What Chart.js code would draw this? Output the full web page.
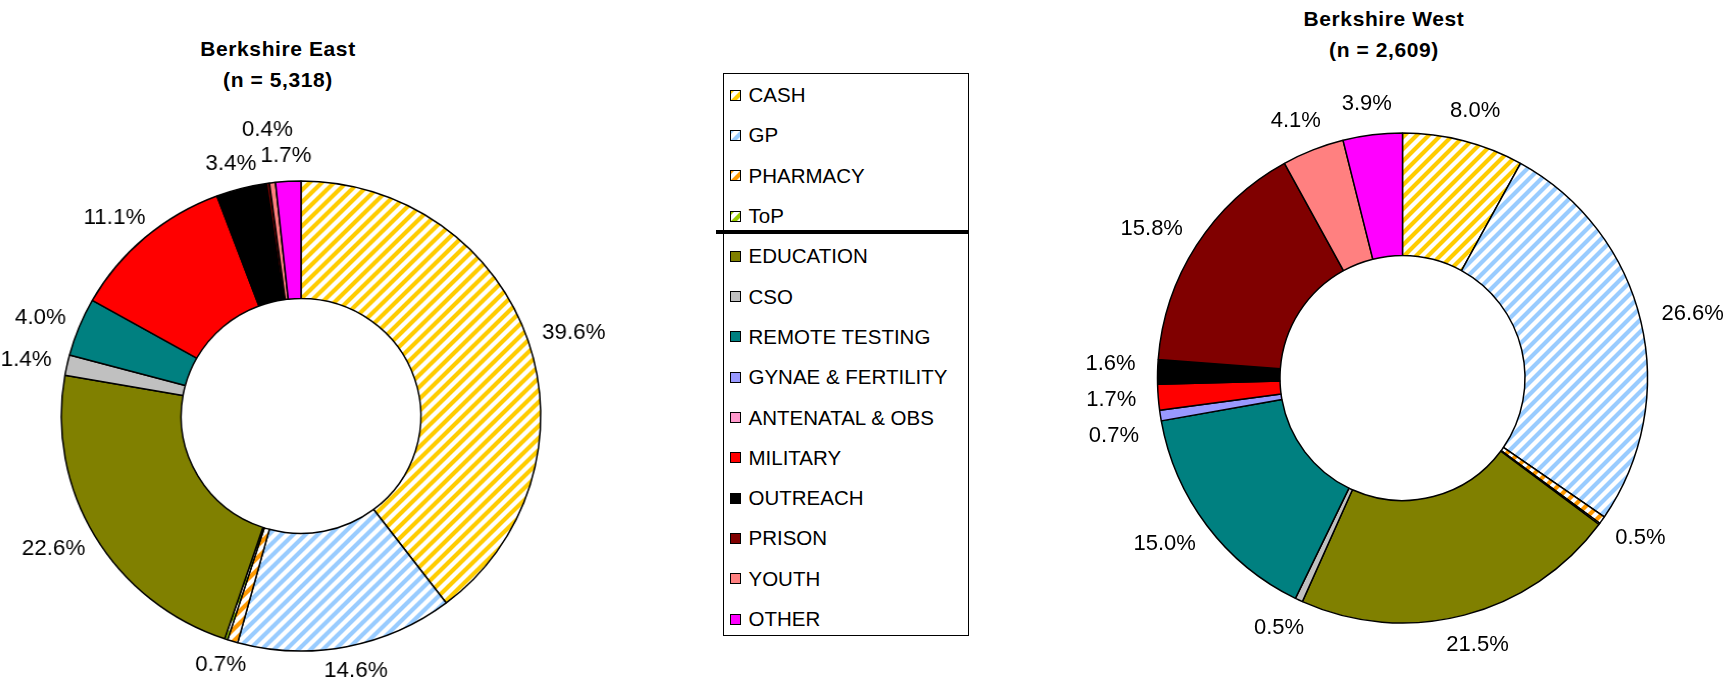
<!DOCTYPE html>
<html>
<head>
<meta charset="utf-8">
<script src="https://cdn.jsdelivr.net/npm/chart.js@4/dist/chart.umd.min.js"></script>
<style>
    body {
        margin: 0;
        width: 1726px;
        height: 685px;
        overflow: hidden;
        position: relative;
        background: #fff;
        font-family: 'Liberation Sans', Arial, sans-serif;
    }
    canvas { position: absolute; }
    .heading {
        position: absolute;
        width: 400px;
        text-align: center;
        font-weight: bold;
        font-size: 21px;
        line-height: 30.5px;
        letter-spacing: 0.6px;
        color: #000;
    }
    #legend {
        position: absolute;
        left: 723px;
        top: 73px;
        width: 246px;
        height: 563px;
        box-sizing: border-box;
        border: 1.5px solid #000;
        padding-top: 1px;
    }
    .lg-row {
        height: 40.3px;
        display: flex;
        align-items: center;
        padding-left: 5.5px;
        font-size: 20.5px;
        color: #000;
        white-space: nowrap;
    }
    .lg-box {
        width: 11px;
        height: 11px;
        box-sizing: border-box;
        border: 1px solid #000;
        margin-right: 8px;
        flex: none;
    }
    #legendRule {
        position: absolute;
        left: 716px;
        top: 230px;
        width: 253px;
        height: 4px;
        background: #000;
    }
</style>
</head>
<body>
<div class="heading" style="left: 78px; top: 34px;">Berkshire East<br>(n = 5,318)</div>
<div class="heading" style="left: 1184px; top: 4px;">Berkshire West<br>(n = 2,609)</div>
<canvas id="eastChart" width="620" height="685" style="left: 0; top: 0; transform: scaleX(1.02); transform-origin: 301px 416px;"></canvas>
<div id="legend"></div>
<div id="legendRule"></div>
<canvas id="westChart" width="666" height="685" style="left: 1060px; top: 0;"></canvas>

<script>
const categories = ['CASH', 'GP', 'PHARMACY', 'ToP', 'EDUCATION', 'CSO', 'REMOTE TESTING',
    'GYNAE & FERTILITY', 'ANTENATAL & OBS', 'MILITARY', 'OUTREACH', 'PRISON', 'YOUTH', 'OTHER'];
const eastValues = [39.6, 14.6, 0.7, 0.2, 22.6, 1.4, 4.0, 0, 0, 11.1, 3.4, 0.2, 0.4, 1.7];
const westValues = [8.0, 26.6, 0.5, 0.1, 21.5, 0.5, 15.0, 0.7, 0, 1.7, 1.6, 15.8, 4.1, 3.9];

// striped categories get a pattern, the rest a flat fill
const stripeColors = { 'CASH': '#ffcc00', 'GP': '#99ccff', 'PHARMACY': '#ff9900', 'ToP': '#99cc00' };
const flatColors = {
    'EDUCATION': '#808000',
    'CSO': '#c0c0c0',
    'REMOTE TESTING': '#008080',
    'GYNAE & FERTILITY': '#9999ff',
    'ANTENATAL & OBS': '#ff99cc',
    'MILITARY': '#ff0000',
    'OUTREACH': '#000000',
    'PRISON': '#800000',
    'YOUTH': '#ff8080',
    'OTHER': '#ff00ff'
};

function stripeTile(color) {
    const s = 12;
    const tile = document.createElement('canvas');
    tile.width = tile.height = s;
    const c = tile.getContext('2d');
    c.fillStyle = '#fff';
    c.fillRect(0, 0, s, s);
    c.strokeStyle = color;
    c.lineWidth = 4.2;
    c.beginPath();
    c.moveTo(-s / 2, s / 2); c.lineTo(s / 2, -s / 2);
    c.moveTo(0, s); c.lineTo(s, 0);
    c.moveTo(s / 2, s * 1.5); c.lineTo(s * 1.5, s / 2);
    c.stroke();
    return tile;
}

const tiles = {};
Object.keys(stripeColors).forEach(k => tiles[k] = stripeTile(stripeColors[k]));

function fillsFor(canvas) {
    const ctx = canvas.getContext('2d');
    return categories.map(cat => tiles[cat] ? ctx.createPattern(tiles[cat], 'repeat') : flatColors[cat]);
}

// percentage labels outside each slice, small ones nudged vertically when they collide
const sliceLabels = {
    id: 'sliceLabels',
    afterDatasetsDraw(chart, args, opts) {
        const ctx = chart.ctx;
        const meta = chart.getDatasetMeta(0);
        const values = chart.data.datasets[0].data;
        const hh = 9;
        ctx.save();
        ctx.font = opts.font;
        ctx.fillStyle = '#000';
        ctx.textAlign = 'center';
        ctx.textBaseline = 'middle';
        const placed = [];
        const order = values.map((v, i) => i)
            .filter(i => values[i] >= opts.min)
            .sort((a, b) => values[b] - values[a]);
        order.forEach(i => {
            const arc = meta.data[i];
            const p = arc.getProps(['x', 'y', 'startAngle', 'endAngle', 'outerRadius'], true);
            const mid = (p.startAngle + p.endAngle) / 2;
            const ux = Math.cos(mid), uy = Math.sin(mid);
            const text = values[i].toFixed(1) + '%';
            const hw = ctx.measureText(text).width / 2;
            let cx = p.x + (p.outerRadius + opts.gap) * ux + hw * ux;
            let cy = p.y + (p.outerRadius + opts.gap) * uy + hh * uy;
            for (let k = 0; k < 20; k++) {
                const hit = placed.find(q => Math.abs(q.x - cx) < q.hw + hw && Math.abs(q.y - cy) < opts.sep);
                if (!hit) break;
                cy = cy < hit.y ? hit.y - opts.sep : hit.y + opts.sep;
            }
            placed.push({ x: cx, y: cy, hw: hw });
            ctx.fillText(text, cx, cy);
        });
        ctx.restore();
    }
};

function makeDonut(canvas, values, radius, padding, gap, sep) {
    return new Chart(canvas, {
        type: 'doughnut',
        data: {
            labels: categories,
            datasets: [{
                data: values,
                backgroundColor: fillsFor(canvas),
                borderColor: '#000',
                borderWidth: 1.5
            }]
        },
        options: {
            responsive: false,
            maintainAspectRatio: false,
            animation: false,
            events: [],
            radius: radius,
            cutout: '50%',
            layout: { padding: padding },
            plugins: {
                legend: { display: false },
                tooltip: { enabled: false },
                sliceLabels: { font: '22px "Liberation Sans", Arial, sans-serif', gap: gap, sep: sep, min: 0.3 }
            }
        },
        plugins: [sliceLabels]
    });
}

makeDonut(document.getElementById('eastChart'), eastValues, 235, { left: 0, right: 18, top: 147, bottom: 0 }, 16, 26);
makeDonut(document.getElementById('westChart'), westValues, 245, { left: 19, right: 0, top: 71, bottom: 0 }, 22, 36);

// legend box shared by both charts
const legend = document.getElementById('legend');
categories.forEach(cat => {
    const row = document.createElement('div');
    row.className = 'lg-row';
    const box = document.createElement('span');
    box.className = 'lg-box';
    if (tiles[cat]) {
        box.style.background = `url(${tiles[cat].toDataURL()})`;
    } else {
        box.style.background = flatColors[cat];
    }
    const label = document.createElement('span');
    label.textContent = cat;
    row.appendChild(box);
    row.appendChild(label);
    legend.appendChild(row);
});
</script>
</body>
</html>
